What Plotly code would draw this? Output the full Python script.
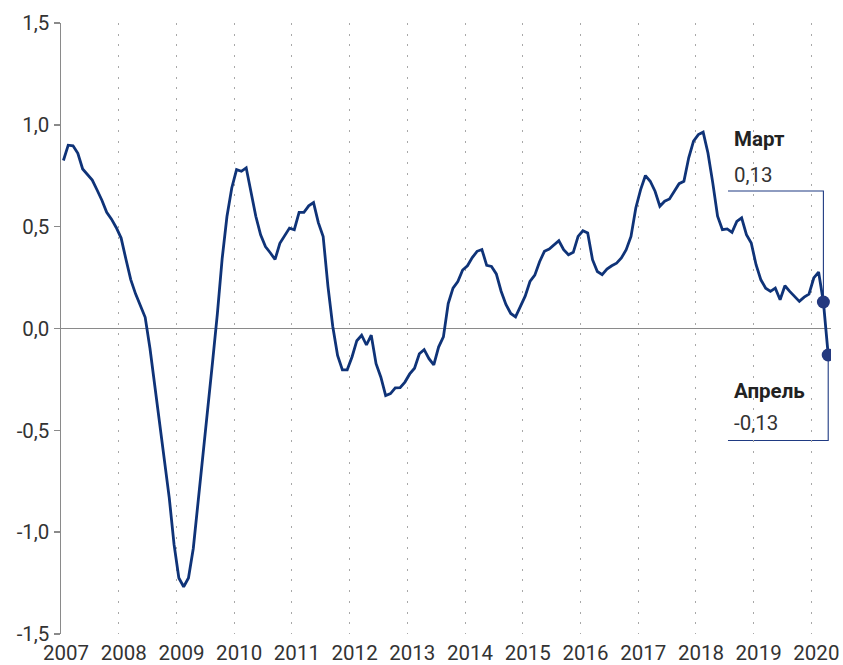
import plotly.graph_objects as go

# ---- data (monthly, Jan 2007 .. Apr 2020) ----
start_year = 2007
values = [
    # 2007
    0.825, 0.900, 0.897, 0.860, 0.783, 0.758, 0.729, 0.680, 0.630, 0.571, 0.537, 0.495,
    # 2008
    0.444, 0.340, 0.240, 0.170, 0.114, 0.055, -0.098, -0.285, -0.470, -0.640, -0.830, -1.060,
    # 2009
    -1.225, -1.268, -1.225, -1.080, -0.860, -0.607, -0.400, -0.166, 0.071, 0.342, 0.550, 0.690,
    # 2010
    0.780, 0.772, 0.789, 0.666, 0.551, 0.460, 0.402, 0.372, 0.339, 0.418, 0.456, 0.493,
    # 2011
    0.485, 0.570, 0.570, 0.602, 0.618, 0.520, 0.452, 0.207, 0.010, -0.132, -0.203, -0.203,
    # 2012
    -0.140, -0.060, -0.033, -0.081, -0.033, -0.173, -0.239, -0.329, -0.320, -0.292, -0.290, -0.263,
    # 2013
    -0.223, -0.195, -0.124, -0.104, -0.148, -0.179, -0.091, -0.041, 0.122, 0.198, 0.231, 0.287,
    # 2014
    0.308, 0.348, 0.379, 0.388, 0.310, 0.305, 0.268, 0.183, 0.118, 0.074, 0.057, 0.107,
    # 2015
    0.159, 0.231, 0.262, 0.328, 0.379, 0.390, 0.411, 0.431, 0.387, 0.362, 0.374, 0.452,
    # 2016
    0.480, 0.469, 0.338, 0.280, 0.264, 0.292, 0.308, 0.321, 0.346, 0.387, 0.452, 0.592,
    # 2017
    0.682, 0.751, 0.723, 0.674, 0.600, 0.625, 0.636, 0.674, 0.711, 0.723, 0.838, 0.920,
    # 2018
    0.952, 0.964, 0.862, 0.715, 0.551, 0.485, 0.489, 0.472, 0.526, 0.543, 0.461, 0.420,
    # 2019
    0.313, 0.239, 0.198, 0.182, 0.198, 0.141, 0.210, 0.182, 0.157, 0.133, 0.154, 0.169,
    # 2020
    0.248, 0.277, 0.130, -0.130,
]

year_ticks = list(range(2007, 2021))
year_labels = [str(y) for y in year_ticks]
y_ticks = [-1.5, -1.0, -0.5, 0.0, 0.5, 1.0, 1.5]
y_labels = ["-1,5", "-1,0", "-0,5", "0,0", "0,5", "1,0", "1,5"]

callout_names = ["Март", "Апрель"]
callout_texts = ["0,13", "-0,13"]

# ---- positions: mid-month fractional years ----
x = [start_year + (i + 0.5) / 12 for i in range(len(values))]

# ---- style ----
LINE_COLOR = "#0f3378"
DOT_COLOR = "#24397f"
AXIS_GRAY = "#8a8a8a"
TEXT = "#333333"
FONT = "Roboto"
FS = 20.5

fig = go.Figure()
fig.add_trace(go.Scatter(
    x=x, y=values, mode="lines",
    line=dict(color=LINE_COLOR, width=2.8),
    hoverinfo="skip", showlegend=False,
))

# last two points highlighted
hx = x[-2:]
hy = values[-2:]
fig.add_trace(go.Scatter(
    x=hx, y=hy, mode="markers",
    marker=dict(color=DOT_COLOR, size=13),
    hoverinfo="skip", showlegend=False,
))

# callouts
label_left = 2018.555       # left end of callout lines (layout)
line_levels = [0.675, -0.55]  # callout line heights (layout)
for i in range(2):
    px, py = hx[i], hy[i]
    ly = line_levels[i]
    fig.add_shape(type="path",
                  path=f"M {label_left},{ly} L {px},{ly} L {px},{py}",
                  line=dict(color="#1f3a82", width=1.1), layer="below")
    fig.add_annotation(x=label_left, y=ly, text=callout_texts[i], showarrow=False,
                       xanchor="left", yanchor="middle", xshift=4,
                       yshift=16 if i == 0 else 18,
                       font=dict(family=FONT, size=FS, color=TEXT))
    fig.add_annotation(x=label_left, y=ly, text=f"<b>{callout_names[i]}</b>", showarrow=False,
                       xanchor="left", yanchor="middle", xshift=4,
                       yshift=52 if i == 0 else 50,
                       font=dict(family=FONT, size=FS, color="#222222"))

fig.update_layout(
    width=843, height=665,
    margin=dict(l=61, r=12, t=23, b=31, autoexpand=False),
    plot_bgcolor="white", paper_bgcolor="white",
    font=dict(family=FONT, size=FS, color=TEXT),
    xaxis=dict(
        range=[2007, 2020.34], automargin=False,
        tickvals=year_ticks, ticktext=year_labels,
        showgrid=True, gridcolor="#a8a8a8", gridwidth=1, griddash="2px,8.7px",
        showline=False, zeroline=False, ticks="",
        ticklabelshift=5, ticklabelstandoff=4,
        tickfont=dict(family=FONT, size=FS, color=TEXT),
    ),
    yaxis=dict(
        range=[-1.5, 1.5], automargin=False,
        tickvals=y_ticks, ticktext=y_labels,
        showgrid=False,
        showline=True, linecolor=AXIS_GRAY, linewidth=1.5,
        ticks="outside", ticklen=6, tickcolor=AXIS_GRAY, tickwidth=1.5,
        zeroline=True, zerolinecolor=AXIS_GRAY, zerolinewidth=1.5,
        tickfont=dict(family=FONT, size=FS, color=TEXT),
    ),
)

fig.write_html(
    "out.html",
    config={"displayModeBar": False, "staticPlot": True},
    post_script="document.body.style.margin='0';document.body.style.overflow='hidden';",
)
